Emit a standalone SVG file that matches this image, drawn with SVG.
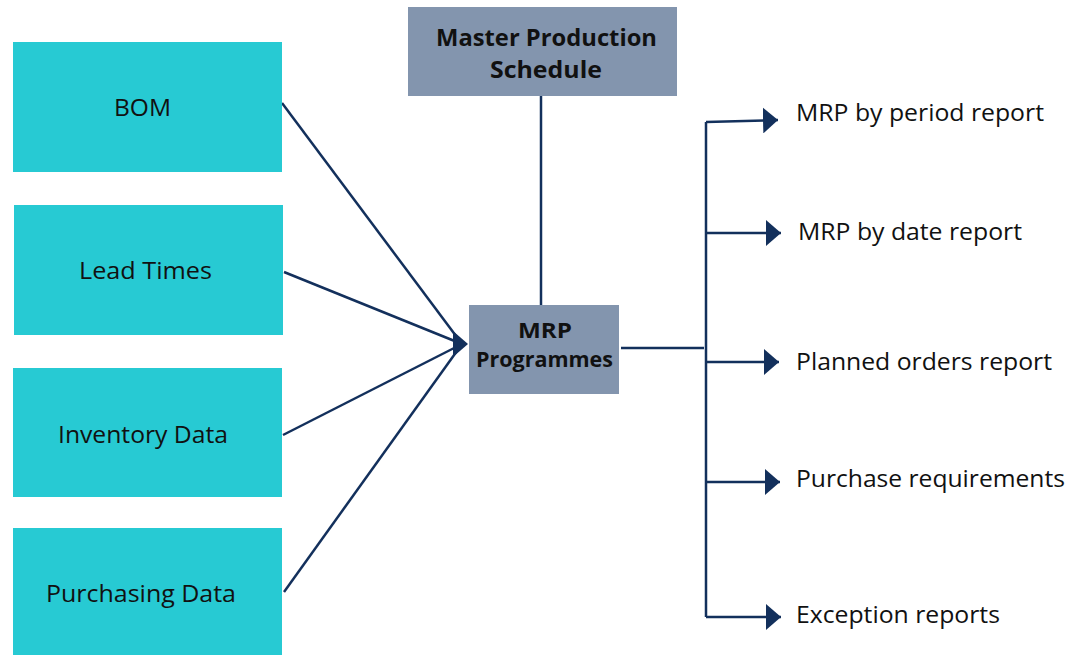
<svg xmlns="http://www.w3.org/2000/svg" width="1068" height="655" viewBox="0 0 1068 655">
  <style>
    .input { fill: #27CAD3; }
    .core { fill: #8395AE; }
    .label { font-family: "Open Sans", "Liberation Sans", sans-serif; font-size: 23px; fill: #111; }
    .bold { font-family: "Open Sans", "Liberation Sans", sans-serif; font-size: 23px; font-weight: bold; fill: #111; }
    .wire { stroke: #13305C; stroke-width: 2.5; fill: none; }
    .tip { fill: #13305C; }
  </style>
  <defs>
    <marker id="head" markerWidth="15" markerHeight="26" refX="15" refY="13" orient="auto" markerUnits="userSpaceOnUse">
      <path d="M0,0 L15,13 L0,26 Z" fill="#13305C"/>
    </marker>
  </defs>
  <rect width="1068" height="655" fill="#fff"/>

  <!-- feeds into the MRP programmes, the schedule link, and the report bus -->
  <g id="connectors">
    <line class="wire" x1="282" y1="103" x2="462" y2="344"/>
    <line class="wire" x1="284" y1="272" x2="462" y2="344"/>
    <line class="wire" x1="283" y1="435" x2="462" y2="344"/>
    <line class="wire" x1="284" y1="592" x2="462" y2="344"/>
    <path class="tip" d="M453,331 L468,344 L453,357 Z"/>
    <line class="wire" x1="541" y1="96" x2="541" y2="305"/>
    <line class="wire" x1="621" y1="348" x2="704" y2="348"/>
    <line class="wire" x1="706" y1="122" x2="706" y2="617"/>
    <line class="wire" x1="706" y1="122" x2="778" y2="120" marker-end="url(#head)"/>
    <line class="wire" x1="706" y1="233" x2="781" y2="233" marker-end="url(#head)"/>
    <line class="wire" x1="706" y1="362" x2="779" y2="362" marker-end="url(#head)"/>
    <line class="wire" x1="706" y1="482" x2="780" y2="482" marker-end="url(#head)"/>
    <line class="wire" x1="706" y1="617" x2="781" y2="617" marker-end="url(#head)"/>
  </g>

  <g id="bom">
    <rect class="input" x="13" y="42" width="269" height="130"/>
    <text class="label" x="114" y="116" textLength="57" lengthAdjust="spacingAndGlyphs">BOM</text>
  </g>
  <g id="lead-times">
    <rect class="input" x="14" y="205" width="269" height="130"/>
    <text class="label" x="79" y="279" textLength="133" lengthAdjust="spacingAndGlyphs">Lead Times</text>
  </g>
  <g id="inventory-data">
    <rect class="input" x="13" y="368" width="269" height="129"/>
    <text class="label" x="58" y="443" textLength="170" lengthAdjust="spacingAndGlyphs">Inventory Data</text>
  </g>
  <g id="purchasing-data">
    <rect class="input" x="13" y="528" width="269" height="127"/>
    <text class="label" x="46" y="602" textLength="190" lengthAdjust="spacingAndGlyphs">Purchasing Data</text>
  </g>

  <g id="master-production-schedule">
    <rect class="core" x="408" y="7" width="269" height="89"/>
    <text class="bold" x="436" y="46" textLength="221" lengthAdjust="spacingAndGlyphs">Master Production</text>
    <text class="bold" x="490" y="78" textLength="112" lengthAdjust="spacingAndGlyphs">Schedule</text>
  </g>
  <g id="mrp-programmes">
    <rect class="core" x="469" y="305" width="150" height="89"/>
    <text class="bold" x="518" y="338" textLength="54" lengthAdjust="spacingAndGlyphs" style="font-size:21px">MRP</text>
    <text class="bold" x="476" y="367" textLength="137" lengthAdjust="spacingAndGlyphs" style="font-size:21px">Programmes</text>
  </g>

  <g id="outputs">
    <text class="label" x="796" y="121" textLength="248" lengthAdjust="spacingAndGlyphs">MRP by period report</text>
    <text class="label" x="798" y="240" textLength="224" lengthAdjust="spacingAndGlyphs">MRP by date report</text>
    <text class="label" x="796" y="370" textLength="256" lengthAdjust="spacingAndGlyphs">Planned orders report</text>
    <text class="label" x="796" y="487" textLength="269" lengthAdjust="spacingAndGlyphs">Purchase requirements</text>
    <text class="label" x="796" y="623" textLength="204" lengthAdjust="spacingAndGlyphs">Exception reports</text>
  </g>
</svg>
